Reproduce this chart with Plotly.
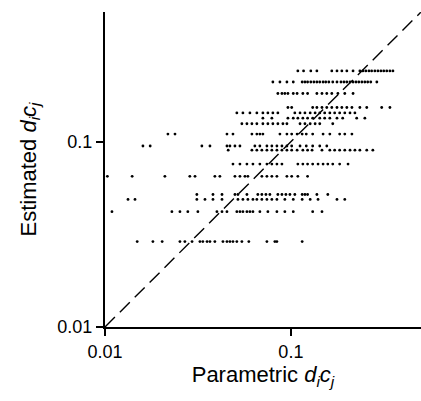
import plotly.graph_objects as go

# each row: one estimated value (y) shared by many parametric values (x)
row_y = [0.241, 0.210, 0.182, 0.153, 0.143, 0.134, 0.125, 0.110,
         0.0948, 0.090, 0.0757, 0.065, 0.0519, 0.0488, 0.0419, 0.0289]

row_x = [
    [0.109, 0.117, 0.128, 0.138, 0.166, 0.177, 0.188, 0.200, 0.216, 0.235, 0.244,
     0.253, 0.263, 0.272, 0.283, 0.294, 0.305, 0.316, 0.328, 0.341, 0.354],
    [0.0800, 0.0873, 0.0952, 0.103, 0.115, 0.119, 0.123, 0.128, 0.133, 0.138, 0.143,
     0.149, 0.154, 0.160, 0.168, 0.177, 0.186, 0.193, 0.200, 0.208, 0.216, 0.224,
     0.232, 0.241, 0.250, 0.259, 0.269, 0.290],
    [0.0851, 0.0895, 0.0928, 0.0964, 0.103, 0.108, 0.116, 0.123, 0.138, 0.147,
     0.156, 0.166, 0.179, 0.195, 0.216],
    [0.0964, 0.101, 0.131, 0.138, 0.147, 0.156, 0.166, 0.177, 0.188, 0.200, 0.213,
     0.235, 0.256, 0.308, 0.341],
    [0.0512, 0.0552, 0.0602, 0.0656, 0.0707, 0.0752, 0.0800, 0.0851, 0.105, 0.112,
     0.119, 0.127, 0.135, 0.143, 0.152, 0.162, 0.172, 0.183, 0.195, 0.208, 0.221],
    [0.0707, 0.0790, 0.0964, 0.103, 0.109, 0.116, 0.123, 0.131, 0.143, 0.152,
     0.162, 0.177, 0.190, 0.226, 0.250],
    [0.0545, 0.0580, 0.0617, 0.0656, 0.0707, 0.0752, 0.0800, 0.0851, 0.0906,
     0.0952, 0.112, 0.119, 0.127, 0.135, 0.143, 0.168],
    [0.0218, 0.0238, 0.0453, 0.0488, 0.0617, 0.0656, 0.0681, 0.0707, 0.0873,
     0.0952, 0.101, 0.108, 0.115, 0.121, 0.131, 0.149, 0.162, 0.183, 0.195, 0.213],
    [0.0160, 0.0175, 0.0332, 0.0367, 0.0453, 0.0470, 0.0500, 0.0532, 0.0640,
     0.0681, 0.0743, 0.0790, 0.0841, 0.0895, 0.0952, 0.101, 0.112, 0.121, 0.131,
     0.143, 0.156],
    [0.0460, 0.0617, 0.0656, 0.0698, 0.0743, 0.0790, 0.0841, 0.0895, 0.0952,
     0.101, 0.108, 0.116, 0.123, 0.130, 0.147, 0.162, 0.172, 0.183, 0.195, 0.208,
     0.221, 0.235, 0.256, 0.276],
    [0.0488, 0.0532, 0.0580, 0.0625, 0.0681, 0.0743, 0.0790, 0.0841, 0.0895,
     0.109, 0.116, 0.123, 0.131, 0.140, 0.149, 0.158, 0.168, 0.183, 0.203],
    [0.0103, 0.0140, 0.0210, 0.0286, 0.0305, 0.0390, 0.0415, 0.0500, 0.0532,
     0.0566, 0.0587, 0.0698, 0.0743, 0.0790, 0.0841, 0.0952, 0.101, 0.109, 0.123],
    [0.0312, 0.0381, 0.0426, 0.0500, 0.0519, 0.0580, 0.0664, 0.0698, 0.0734,
     0.0771, 0.0851, 0.0895, 0.0940, 0.0988, 0.105, 0.115, 0.119, 0.123, 0.138,
     0.158],
    [0.0133, 0.0145, 0.0312, 0.0345, 0.0381, 0.0426, 0.0519, 0.0552, 0.0587,
     0.0625, 0.0656, 0.0698, 0.0743, 0.0790, 0.0841, 0.0928, 0.103, 0.115, 0.127,
     0.140, 0.177, 0.195],
    [0.0109, 0.0229, 0.0253, 0.0279, 0.0316, 0.0400, 0.0426, 0.0453, 0.0512,
     0.0532, 0.0552, 0.0580, 0.0602, 0.0625, 0.0681, 0.0752, 0.0841, 0.0928,
     0.103, 0.131, 0.147],
    [0.0149, 0.0181, 0.0203, 0.0253, 0.0269, 0.0294, 0.0324, 0.0336, 0.0354,
     0.0367, 0.0390, 0.0431, 0.0453, 0.0470, 0.0488, 0.0512, 0.0545, 0.0594,
     0.0743, 0.0820, 0.0841, 0.115],
]

identity = [0.01, 0.5]
tick_vals = [0.01, 0.1]
tick_text = ["0.01", "0.1"]

xs, ys = [], []
for y, row in zip(row_y, row_x):
    xs += row
    ys += [y] * len(row)

fig = go.Figure()
fig.add_trace(go.Scatter(x=identity, y=identity, mode="lines",
                         line=dict(color="black", width=1.4, dash="14px,7px"),
                         hoverinfo="skip"))
fig.add_trace(go.Scatter(x=xs, y=ys, mode="markers",
                         marker=dict(color="black", size=2.8, line=dict(width=0))))

axis_common = dict(type="log", showgrid=False, zeroline=False, automargin=False,
                   showline=True, linecolor="black", linewidth=2,
                   ticks="outside", ticklen=7, tickwidth=1.5, tickcolor="black",
                   tickvals=tick_vals, ticktext=tick_text,
                   tickfont=dict(size=18, color="black"))

fig.update_xaxes(range=[-2, -0.3], title=dict(
    text="Parametric <i>d</i><sub><i>i</i></sub><i>c</i><sub><i>j</i></sub>",
    font=dict(size=22, color="black"), standoff=6), **axis_common)
fig.update_yaxes(range=[-2, -0.3], title=dict(
    text="Estimated <i>d</i><sub><i>i</i></sub><i>c</i><sub><i>j</i></sub>",
    font=dict(size=22, color="black"), standoff=15), **axis_common)

fig.update_layout(width=421, height=401, showlegend=False,
                  margin=dict(l=105, r=0, t=12, b=74),
                  paper_bgcolor="white", plot_bgcolor="white",
                  font=dict(family="Liberation Sans, Arial, sans-serif"))

# drop the browser's default page margin so the figure fills the window
fig.write_html("out.html", config={"displayModeBar": False},
               post_script="document.body.style.margin='0';")
